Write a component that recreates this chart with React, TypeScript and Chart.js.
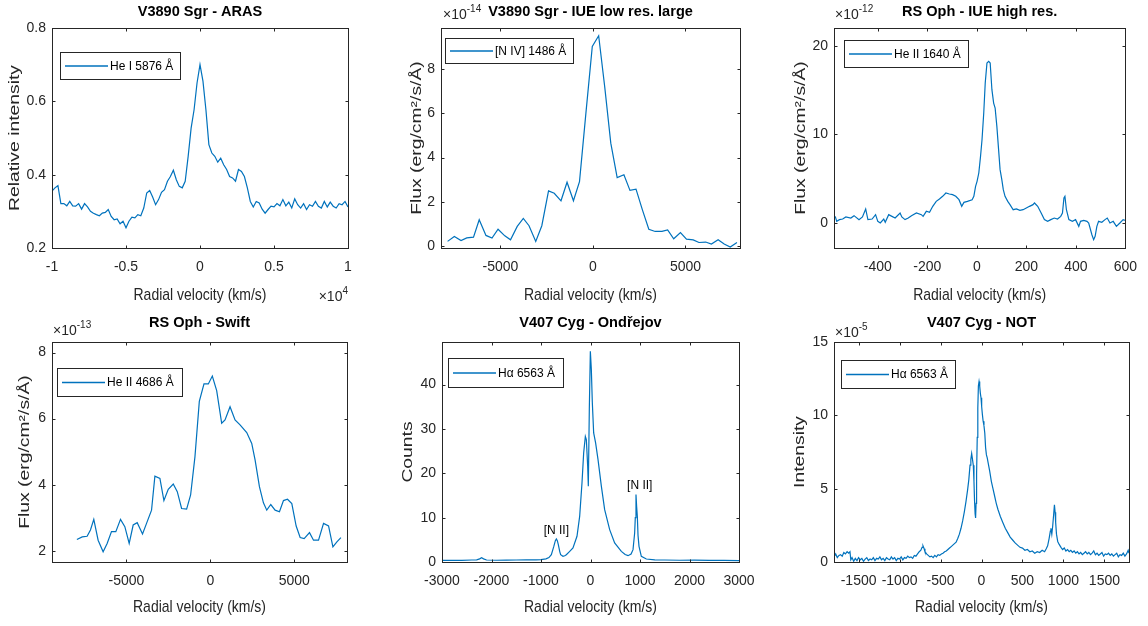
import React, { useEffect, useRef } from 'react';
import { Chart, registerables } from 'chart.js';

Chart.register(...registerables);

const W = 1148;
const H = 626;
const FONT = '"Liberation Sans", Arial, Helvetica, sans-serif';
const INK = '#262626';
const LINE = '#0072BD';
const Y_SCALE_W = 50;
const X_SCALE_H = 40;

// ---------- Panel 1: V3890 Sgr - ARAS, He I 5876 Å ----------
const arasVelocity = [
  -10000, -9800, -9600, -9400, -9200, -9000, -8800, -8600, -8400, -8200,
  -8000, -7800, -7600, -7400, -7200, -7000, -6800, -6600, -6400, -6200,
  -6000, -5800, -5600, -5400, -5200, -5000, -4800, -4600, -4400, -4200,
  -4000, -3800, -3600, -3400, -3200, -3000, -2800, -2600, -2400, -2200,
  -2000, -1800, -1600, -1400, -1200, -1000, -800, -600, -400, -200,
  0, 200, 400, 600, 800, 1000, 1200, 1400, 1600, 1800,
  2000, 2200, 2400, 2600, 2800, 3000, 3200, 3400, 3600, 3800,
  4000, 4200, 4400, 4600, 4800, 5000, 5200, 5400, 5600, 5800,
  6000, 6200, 6400, 6600, 6800, 7000, 7200, 7400, 7600, 7800,
  8000, 8200, 8400, 8600, 8800, 9000, 9200, 9400, 9600, 9800,
  10000,
];
const arasIntensity = [
  0.355, 0.364, 0.37, 0.321, 0.321, 0.315, 0.327, 0.315, 0.314, 0.321,
  0.306, 0.321, 0.312, 0.3, 0.295, 0.291, 0.288, 0.295, 0.297, 0.305,
  0.286, 0.277, 0.279, 0.266, 0.273, 0.255, 0.273, 0.284, 0.282, 0.291,
  0.288, 0.309, 0.35, 0.357, 0.339, 0.318, 0.332, 0.352, 0.359, 0.382,
  0.395, 0.412, 0.386, 0.368, 0.364, 0.382, 0.45, 0.527, 0.577, 0.65,
  0.7, 0.655, 0.577, 0.482, 0.459, 0.45, 0.434, 0.445, 0.427, 0.414,
  0.395, 0.391, 0.382, 0.414, 0.409, 0.395, 0.364, 0.327, 0.312, 0.327,
  0.323, 0.306, 0.295, 0.305, 0.314, 0.312, 0.321, 0.315, 0.332, 0.315,
  0.325, 0.309, 0.334, 0.318, 0.309, 0.321, 0.305, 0.318, 0.314, 0.327,
  0.314, 0.309, 0.327, 0.312, 0.325, 0.314, 0.309, 0.321, 0.318, 0.327,
  0.312,
];

// ---------- Panel 2: V3890 Sgr - IUE low res. large, [N IV] 1486 Å (x 1e-14) ----------
const iueLowVelocity = [
  -7854, -7490, -7127, -6818, -6454, -6145, -5781, -5454, -5127, -4763,
  -4454, -4091, -3763, -3454, -3091, -2763, -2400, -2091, -1727, -1400,
  -1054, -727, -382, -36, 309, 636, 964, 1309, 1673, 2000,
  2327, 2672, 3018, 3363, 3727, 4036, 4363, 4727, 5054, 5418,
  5727, 6090, 6400, 6763, 7090, 7418, 7781,
];
const iueLowFlux = [
  0.2, 0.42, 0.24, 0.36, 0.39, 1.18, 0.47, 0.35, 0.75, 0.45,
  0.27, 0.88, 1.24, 0.91, 0.2, 0.91, 2.49, 2.38, 2.04, 2.88,
  2.04, 2.91, 6.0, 9.03, 9.52, 7.2, 4.65, 3.09, 3.22, 2.51,
  2.57, 1.63, 0.75, 0.65, 0.65, 0.72, 0.32, 0.6, 0.3, 0.27,
  0.15, 0.17, 0.08, 0.27, 0.08, -0.06, 0.15,
];

// ---------- Panel 3: RS Oph - IUE high res., He II 1640 Å (x 1e-12) ----------
const iueHighVelocity = [
  -572, -566, -555, -542, -529, -509, -496, -476, -462, -449,
  -440, -423, -409, -400, -390, -376, -370, -356, -343, -330,
  -310, -303, -290, -277, -264, -244, -224, -217, -204, -191,
  -178, -164, -151, -138, -125, -111, -98, -85, -72, -61,
  -52, -38, -19, -12, -5, 1, 8, 15, 21, 28,
  34, 41, 48, 54, 61, 68, 74, 81, 87, 94,
  101, 107, 114, 125, 134, 147, 160, 174, 187, 200,
  213, 227, 233, 246, 260, 273, 286, 299, 313, 326,
  339, 346, 352, 356, 362, 372, 386, 399, 412, 419,
  432, 445, 452, 465, 472, 478, 485, 492, 505, 518,
  527, 538, 551, 564, 578, 591, 598,
];
const iueHighFlux = [
  0.75, 0.19, 0.38, 0.45, 0.68, 0.56, 0.83, 0.38, 0.68, 1.58,
  0.38, 0.45, 0.94, 0.19, 0, 0.45, 0.08, 0.94, 0.75, 0.56,
  1.13, 0.68, 0.38, 0.56, 0.83, 1.13, 0.94, 0.75, 1.32, 1.2,
  1.88, 2.44, 2.71, 3.01, 3.38, 3.27, 3.2, 3.01, 2.63, 1.88,
  2.33, 2.44, 2.63, 3.01, 4.14, 4.7, 5.64, 7.52, 9.4, 12.41,
  15.79, 18.05, 18.23, 18.05, 15.04, 13.53, 12.97, 10.9, 8.65, 6.02,
  4.89, 3.76, 3.01, 2.44, 2.07, 1.5, 1.58, 1.43, 1.5, 1.69,
  1.88, 2.07, 2.26, 1.88, 1.13, 0.38, 0.19, 0.38, 0.56, 0.45,
  0.75, 1.13, 2.82, 3.01, 1.5, 0.38, 0.19, 0.38, -0.38, 0.19,
  0.3, 0.19, 0, -1.32, -1.88, -1.5, -0.38, 0.19, 0.08, 0.38,
  0.56, 0, 0.19, -0.38, 0, 0.38, 0.3,
];

// ---------- Panel 4: RS Oph - Swift, He II 4686 Å (x 1e-13) ----------
const swiftVelocity = [
  -7948, -7630, -7339, -7140, -6941, -6683, -6385, -6146, -5887, -5629,
  -5350, -5092, -4833, -4595, -4356, -4038, -3799, -3501, -3302, -3003,
  -2765, -2506, -2208, -1969, -1711, -1412, -1174, -915, -656, -378,
  -119, 119, 378, 676, 875, 1174, 1472, 1770, 2168, 2466,
  2665, 2924, 3163, 3361, 3600, 3859, 4117, 4356, 4595, 4853,
  5112, 5350, 5589, 5907, 6146, 6444, 6743, 7041, 7300, 7538,
  7777,
];
const swiftFlux = [
  2.34, 2.42, 2.44, 2.63, 2.95, 2.32, 1.97, 2.22, 2.58, 2.58,
  2.95, 2.73, 2.22, 2.78, 2.85, 2.51, 2.83, 3.23, 4.26, 4.19,
  3.52, 3.86, 4.02, 3.79, 3.28, 3.26, 3.69, 4.85, 6.52, 7.05,
  7.05, 7.29, 6.85, 5.86, 5.96, 6.36, 5.96, 5.81, 5.58, 5.25,
  4.75, 3.94, 3.45, 3.23, 3.4, 3.23, 3.18, 3.52, 3.56, 3.43,
  2.75, 2.4, 2.37, 2.55, 2.32, 2.32, 2.83, 2.75, 2.12, 2.27,
  2.4,
];

// ---------- Panel 5: V407 Cyg - Ondřejov, Hα 6563 Å ----------
const ondVelocity = [
  -3000, -2800, -2600, -2400, -2300, -2240, -2200, -2160, -2100, -1900,
  -1700, -1500, -1300, -1100, -1000, -900, -840, -791, -744, -710,
  -690, -670, -650, -620, -603, -556, -520, -488, -420, -354,
  -273, -219, -172, -138, -104, -84, -57, -44, -24, -3,
  17, 37, 64, 104, 152, 219, 286, 387, 488, 623,
  700, 758, 820, 859, 892, 905, 919, 932, 946, 960,
  980, 1027, 1128, 1300, 1500, 1800, 2100, 2400, 2700, 3000,
];
const ondCounts = [
  0.35, 0.4, 0.38, 0.45, 0.5, 0.7, 0.95, 0.7, 0.45, 0.4,
  0.42, 0.45, 0.47, 0.5, 0.55, 0.7, 1.0, 1.65, 3.4, 4.8,
  5.2, 4.8, 3.9, 2.3, 1.65, 1.28, 1.4, 1.65, 2.4, 3.16,
  5.79, 10.3, 17.8, 24.6, 28.3, 27.6, 21.6, 17.1, 34.4, 47.5,
  43.4, 35.9, 29.1, 26.8, 23.1, 17.1, 11.8, 7.3, 4.3, 2.4,
  1.7, 1.43, 1.8, 2.78, 6.54, 10, 15.2, 12.5, 10.3, 6,
  3.53, 1.28, 0.68, 0.5, 0.45, 0.4, 0.42, 0.38, 0.35, 0.33,
];
const ondNotes = [
  { x: -690, y: 7.1, text: '[N II]' },
  { x: 995, y: 17.3, text: '[N II]' },
];

// ---------- Panel 6: V407 Cyg - NOT, Hα 6563 Å (x 1e-5) ----------
const notVelocity = [
  -1800, -1780, -1760, -1740, -1720, -1700, -1680, -1660, -1640, -1620,
  -1605, -1595, -1580, -1560, -1540, -1520, -1500, -1480, -1460, -1440,
  -1420, -1400, -1380, -1360, -1340, -1320, -1300, -1280, -1260, -1240,
  -1220, -1200, -1180, -1160, -1140, -1120, -1100, -1080, -1060, -1040,
  -1020, -1000, -980, -960, -940, -920, -900, -880, -860, -840,
  -820, -800, -780, -760, -740, -725, -714, -700, -690, -670,
  -650, -630, -610, -590, -570, -550, -530, -510, -490, -470,
  -450, -430, -410, -390, -370, -350, -330, -310, -290, -270,
  -250, -230, -210, -190, -170, -155, -140, -130, -120, -110,
  -100, -92, -85, -78, -72, -66, -60, -52, -45, -38,
  -30, -22, -14, -6, 2, 10, 20, 30, 40, 50,
  60, 70, 80, 100, 120, 140, 160, 180, 200, 230,
  260, 290, 320, 350, 380, 410, 440, 470, 500, 530,
  560, 590, 620, 650, 680, 710, 740, 770, 790, 807,
  825, 840, 847, 858, 868, 880, 890, 898, 905, 915,
  930, 948, 970, 990, 1010, 1030, 1050, 1070, 1090, 1110,
  1130, 1150, 1170, 1190, 1210, 1230, 1250, 1270, 1290, 1310,
  1330, 1350, 1370, 1390, 1410, 1430, 1450, 1470, 1490, 1510,
  1530, 1550, 1570, 1590, 1610, 1630, 1650, 1670, 1690, 1710,
  1730, 1750, 1770, 1790, 1800,
];
const notIntensity = [
  0.35, 0.55, 0.3, 0.45, 0.5, 0.4, 0.65, 0.55, 0.7, 0.6,
  0.7, 0.15, 0.3, 0.05, 0.25, 0.1, 0.3, 0.15, 0.25, 0.05,
  0.2, 0.3, 0.1, 0.2, 0.15, 0.3, 0.1, 0.25, 0.2, 0.35,
  0.15, 0.25, 0.1, 0.3, 0.2, 0.15, 0.35, 0.2, 0.3, 0.1,
  0.25, 0.2, 0.35, 0.15, 0.3, 0.25, 0.4, 0.3, 0.35, 0.25,
  0.45, 0.4, 0.55, 0.7, 0.8, 1.0, 1.1, 0.9, 0.7, 0.55,
  0.45, 0.35, 0.4, 0.3, 0.45, 0.35, 0.5, 0.45, 0.55, 0.6,
  0.7, 0.75, 0.85, 0.95, 1.05, 1.15, 1.25, 1.35, 1.6, 1.9,
  2.3, 2.8, 3.4, 4.1, 4.9, 5.6, 6.6, 7.0, 7.4, 7.0,
  6.6, 5.5, 4.2, 3.3, 3.0, 4.0, 6.0, 8.5, 10.5, 12.0,
  12.3, 12.0, 11.5, 11.2, 10.6, 10.1, 9.6, 9.3, 8.8, 7.8,
  7.3, 7.1, 6.8, 6.2, 5.5, 5.0, 4.5, 4.0, 3.6, 3.1,
  2.7, 2.3, 2.0, 1.7, 1.5, 1.3, 1.15, 1.0, 0.95, 0.8,
  0.85, 0.7, 0.75, 0.6, 0.7, 0.65, 0.8, 0.7, 0.9, 1.1,
  1.6, 2.1, 2.3, 1.9, 2.4, 3.2, 3.9, 3.4, 2.7, 1.9,
  1.4, 1.2, 1.0, 0.85, 0.95, 0.75, 0.85, 0.7, 0.8, 0.65,
  0.75, 0.6, 0.7, 0.55, 0.65, 0.5, 0.6, 0.7, 0.55, 0.65,
  0.5, 0.6, 0.75, 0.5, 0.6, 0.45, 0.55, 0.65, 0.4, 0.55,
  0.5, 0.6, 0.45, 0.55, 0.4, 0.5, 0.6, 0.35, 0.5, 0.45,
  0.6, 0.4, 0.55, 0.8, 0.6,
];

// ---------- Tick labels ----------
const arasXTicks = [-10000, -5000, 0, 5000, 10000];
const arasYTicks = [0.2, 0.4, 0.6, 0.8];
const iueLowXTicks = [-5000, 0, 5000];
const iueLowYTicks = [0, 2, 4, 6, 8];
const iueHighXTicks = [-400, -200, 0, 200, 400, 600];
const iueHighYTicks = [0, 10, 20];
const swiftXTicks = [-5000, 0, 5000];
const swiftYTicks = [2, 4, 6, 8];
const ondXTicks = [-3000, -2000, -1000, 0, 1000, 2000, 3000];
const ondYTicks = [0, 10, 20, 30, 40];
const notXTicks = [-1500, -1000, -500, 0, 500, 1000, 1500];
const notYTicks = [0, 5, 10, 15];

const X_TITLE = 'Radial velocity (km/s)';
const FLUX_TITLE = 'Flux (erg/cm\u00B2/s/\u00C5)';

type Note = { x: number; y: number; text: string };
type Panel = {
  key: string;
  area: { l: number; t: number; r: number; b: number };
  xMin: number; xMax: number; yMin: number; yMax: number;
  xTicks: number[]; yTicks: number[];
  xFmt?: (v: number) => string;
  xs: number[]; ys: number[];
  title: string; titleY: number;
  yTitle: string; yTitleX: number;
  xTitleY: number;
  exponent?: { sup: string; x: number; y: number; align: 'left' | 'right' };
  legend: { label: string; x: number; y: number; w: number; h: number };
  notes?: Note[];
};

const panels: Panel[] = [
  {
    key: 'aras', area: { l: 52, t: 28, r: 348, b: 248 },
    xMin: -10000, xMax: 10000, yMin: 0.2, yMax: 0.8,
    xTicks: arasXTicks, yTicks: arasYTicks, xFmt: (v) => String(v / 10000),
    xs: arasVelocity, ys: arasIntensity,
    title: 'V3890 Sgr - ARAS', titleY: 12,
    yTitle: 'Relative intensity', yTitleX: 15, xTitleY: 296,
    exponent: { sup: '4', x: 348, y: 297, align: 'right' },
    legend: { label: 'He I 5876 \u00C5', x: 60, y: 52, w: 120, h: 27 },
  },
  {
    key: 'iueLow', area: { l: 441, t: 28, r: 740, b: 248 },
    xMin: -8210, xMax: 7945, yMin: -0.1, yMax: 9.87,
    xTicks: iueLowXTicks, yTicks: iueLowYTicks,
    xs: iueLowVelocity, ys: iueLowFlux,
    title: 'V3890 Sgr - IUE low res. large', titleY: 12,
    yTitle: FLUX_TITLE, yTitleX: 417, xTitleY: 296,
    exponent: { sup: '-14', x: 443, y: 15, align: 'left' },
    legend: { label: '[N IV] 1486 \u00C5', x: 445, y: 38, w: 128, h: 25 },
  },
  {
    key: 'iueHigh', area: { l: 834, t: 28, r: 1128, b: 248 },
    xMin: -577, xMax: 600, yMin: -2.82, yMax: 22.0,
    xTicks: iueHighXTicks, yTicks: iueHighYTicks,
    xs: iueHighVelocity, ys: iueHighFlux,
    title: 'RS Oph - IUE high res.', titleY: 12,
    yTitle: FLUX_TITLE, yTitleX: 801, xTitleY: 296,
    exponent: { sup: '-12', x: 835, y: 15, align: 'left' },
    legend: { label: 'He II 1640 \u00C5', x: 844, y: 40, w: 124, h: 27 },
  },
  {
    key: 'swift', area: { l: 52, t: 342, r: 347, b: 562 },
    xMin: -9430, xMax: 8140, yMin: 1.66, yMax: 8.32,
    xTicks: swiftXTicks, yTicks: swiftYTicks,
    xs: swiftVelocity, ys: swiftFlux,
    title: 'RS Oph - Swift', titleY: 323,
    yTitle: FLUX_TITLE, yTitleX: 25, xTitleY: 608,
    exponent: { sup: '-13', x: 53, y: 331, align: 'left' },
    legend: { label: 'He II 4686 \u00C5', x: 57, y: 368, w: 125, h: 28 },
  },
  {
    key: 'ondrejov', area: { l: 442, t: 342, r: 739, b: 562 },
    xMin: -3000, xMax: 3000, yMin: 0, yMax: 49.6,
    xTicks: ondXTicks, yTicks: ondYTicks,
    xs: ondVelocity, ys: ondCounts,
    title: 'V407 Cyg - Ond\u0159ejov', titleY: 323,
    yTitle: 'Counts', yTitleX: 408, xTitleY: 608,
    legend: { label: 'H\u03B1 6563 \u00C5', x: 448, y: 358, w: 115, h: 29 },
    notes: ondNotes,
  },
  {
    key: 'not', area: { l: 834, t: 342, r: 1129, b: 562 },
    xMin: -1800, xMax: 1800, yMin: 0, yMax: 15,
    xTicks: notXTicks, yTicks: notYTicks,
    xs: notVelocity, ys: notIntensity,
    title: 'V407 Cyg - NOT', titleY: 323,
    yTitle: 'Intensity', yTitleX: 800, xTitleY: 608,
    exponent: { sup: '-5', x: 835, y: 333, align: 'left' },
    legend: { label: 'H\u03B1 6563 \u00C5', x: 841, y: 360, w: 114, h: 28 },
  },
];

function drawText(
  ctx: CanvasRenderingContext2D, s: string, x: number, y: number,
  o: { size: number; bold?: boolean; color?: string; align?: CanvasTextAlign; sx?: number; sy?: number; rot?: number },
) {
  ctx.save();
  ctx.translate(x, y);
  if (o.rot) ctx.rotate(o.rot);
  ctx.scale(o.sx ?? 1, o.sy ?? 1);
  ctx.font = `${o.bold ? 'bold ' : ''}${o.size}px ${FONT}`;
  ctx.fillStyle = o.color ?? INK;
  ctx.textAlign = o.align ?? 'center';
  ctx.textBaseline = 'middle';
  ctx.fillText(s, 0, 0);
  ctx.restore();
}

function makeDecor(p: Panel) {
  return {
    id: 'matlabDecor_' + p.key,
    afterDraw(chart: any) {
      const ctx: CanvasRenderingContext2D = chart.ctx;
      const a = chart.chartArea;
      const xs = chart.scales.x;
      const ys = chart.scales.y;
      const L = Math.round(a.left) + 0.5;
      const R = Math.round(a.right) + 0.5;
      const T = Math.round(a.top) + 0.5;
      const B = Math.round(a.bottom) + 0.5;
      ctx.save();
      ctx.strokeStyle = INK;
      ctx.lineWidth = 1;
      ctx.beginPath();
      const tl = 3;
      p.xTicks.forEach((v) => {
        const px = Math.round(xs.getPixelForValue(v)) + 0.5;
        ctx.moveTo(px, B); ctx.lineTo(px, B - tl);
        ctx.moveTo(px, T); ctx.lineTo(px, T + tl);
      });
      p.yTicks.forEach((v) => {
        const py = Math.round(ys.getPixelForValue(v)) + 0.5;
        ctx.moveTo(L, py); ctx.lineTo(L + tl, py);
        ctx.moveTo(R, py); ctx.lineTo(R - tl, py);
      });
      ctx.stroke();
      ctx.strokeRect(L, T, R - L, B - T);
      ctx.restore();

      const cx = (a.left + a.right) / 2;
      const cy = (a.top + a.bottom) / 2;
      drawText(ctx, p.title, cx, p.titleY, { size: 14, bold: true, color: '#000', sx: 1.04, sy: 1.1 });
      drawText(ctx, X_TITLE, cx, p.xTitleY, { size: 14, sy: 1.15 });
      drawText(ctx, p.yTitle, p.yTitleX, cy, { size: 14, rot: -Math.PI / 2, sx: 1.38, sy: 1.05 });
      if (p.exponent) {
        const e = p.exponent;
        ctx.save();
        ctx.font = `14px ${FONT}`;
        const w1 = ctx.measureText('\u00D710').width;
        ctx.font = `10px ${FONT}`;
        const w2 = ctx.measureText(e.sup).width;
        ctx.restore();
        const x0 = e.align === 'right' ? e.x - w1 - w2 : e.x;
        drawText(ctx, '\u00D710', x0, e.y, { size: 14, align: 'left', sy: 1.1 });
        drawText(ctx, e.sup, x0 + w1, e.y - 6, { size: 10, align: 'left' });
      }
      const lg = p.legend;
      ctx.save();
      ctx.fillStyle = '#fff';
      ctx.fillRect(lg.x, lg.y, lg.w, lg.h);
      ctx.strokeStyle = INK;
      ctx.lineWidth = 1;
      ctx.strokeRect(lg.x + 0.5, lg.y + 0.5, lg.w, lg.h);
      const ly = lg.y + lg.h / 2 + 0.5;
      ctx.strokeStyle = LINE;
      ctx.lineWidth = 1.3;
      ctx.beginPath();
      ctx.moveTo(lg.x + 5, ly);
      ctx.lineTo(lg.x + 48, ly);
      ctx.stroke();
      ctx.restore();
      drawText(ctx, lg.label, lg.x + 50, ly, { size: 12, align: 'left', color: '#000', sy: 1.1 });
      (p.notes || []).forEach((n) => {
        drawText(ctx, n.text, xs.getPixelForValue(n.x), ys.getPixelForValue(n.y), { size: 12, color: '#000', sy: 1.1 });
      });
    },
  };
}

function PanelChart({ p }: { p: Panel }) {
  const ref = useRef<HTMLCanvasElement>(null);
  useEffect(() => {
    const canvas = ref.current;
    if (!canvas) return;
    const data = p.xs.map((x, i) => ({ x, y: p.ys[i] }));
    const yw = Math.min(Y_SCALE_W, p.area.l);
    const chart = new Chart(canvas, {
      type: 'line',
      data: {
        datasets: [{
          label: p.legend.label,
          data,
          borderColor: LINE,
          backgroundColor: LINE,
          borderWidth: 1.2,
          pointRadius: 0,
          tension: 0,
          fill: false,
        }],
      },
      options: {
        animation: false,
        responsive: false,
        devicePixelRatio: 1,
        events: [],
        layout: {
          padding: {
            left: p.area.l - yw,
            top: p.area.t,
            right: W - p.area.r,
            bottom: H - p.area.b - X_SCALE_H,
          },
        },
        plugins: {
          legend: { display: false },
          title: { display: false },
          tooltip: { enabled: false },
        },
        scales: {
          x: {
            type: 'linear',
            position: 'bottom',
            min: p.xMin,
            max: p.xMax,
            grid: { display: false, drawTicks: false },
            border: { display: false },
            afterBuildTicks: (s: any) => { s.ticks = p.xTicks.map((v) => ({ value: v })); },
            afterFit: (s: any) => { s.height = X_SCALE_H; },
            ticks: {
              autoSkip: false,
              maxRotation: 0,
              minRotation: 0,
              padding: 11,
              color: INK,
              font: { family: FONT, size: 14 },
              callback: (v: any) => (p.xFmt ? p.xFmt(Number(v)) : String(v)),
            },
          },
          y: {
            type: 'linear',
            position: 'left',
            min: p.yMin,
            max: p.yMax,
            grid: { display: false, drawTicks: false },
            border: { display: false },
            afterBuildTicks: (s: any) => { s.ticks = p.yTicks.map((v) => ({ value: v })); },
            afterFit: (s: any) => { s.width = yw; },
            ticks: {
              autoSkip: false,
              padding: 6,
              color: INK,
              font: { family: FONT, size: 14 },
              callback: (v: any) => String(v),
            },
          },
        },
      },
      plugins: [makeDecor(p)],
    } as any);
    return () => chart.destroy();
  }, [p]);
  return (
    <canvas
      ref={ref}
      width={W}
      height={H}
      style={{ position: 'absolute', left: 0, top: 0, width: W, height: H }}
    />
  );
}

export default function App() {
  return (
    <div style={{ position: 'absolute', left: 0, top: 0, width: W, height: H, background: '#fff', overflow: 'hidden' }}>
      {panels.map((p) => (
        <PanelChart key={p.key} p={p} />
      ))}
    </div>
  );
}
